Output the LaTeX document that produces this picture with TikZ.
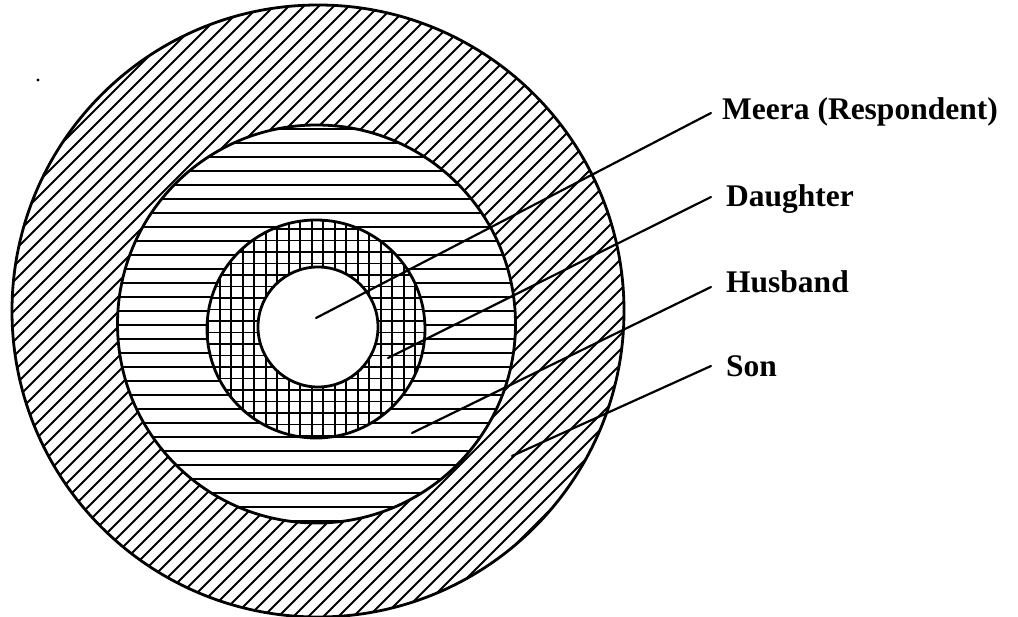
\documentclass[tikz,border=0pt]{standalone}
\usepackage{fontspec}
\setmainfont{Liberation Serif}
\begin{document}
\begin{tikzpicture}[x=1pt,y=-1pt,
  ring/.style={line width=2.8pt},
  hatch/.style={line width=1.9pt},
  leader/.style={line width=2.2pt, line cap=round},
  lab/.style={anchor=base west, inner sep=0pt, font=\fontsize{31.5}{36}\selectfont\bfseries}]
\useasboundingbox (0,0) rectangle (1018,617);
\coordinate (cO) at (318,311);
\coordinate (cM) at (316.5,324);
\coordinate (cX) at (316,329);
\coordinate (cW) at (318,327);
% outer ring: diagonal hatching
\begin{scope}
  \clip (cO) circle[radius=306pt];
  \foreach \d in {-445,-430,...,470} \draw[hatch] (\d,620) -- (\d+620,0);
\end{scope}
% middle ring: horizontal hatching
\fill[white] (cM) circle[radius=199pt];
\begin{scope}
  \clip (cM) circle[radius=199pt];
  \foreach \y in {129,143,...,530} \draw[hatch] (100,\y) -- (540,\y);
\end{scope}
% inner ring: cross hatching
\fill[white] (cX) circle[radius=109pt];
\begin{scope}
  \clip (cX) circle[radius=109pt];
  \foreach \k in {-11,...,11}
    \draw[hatch] (311.7+11.5*\k,210) -- (311.7+11.5*\k,450);
  \foreach \k in {-4,...,20}
    \draw[hatch] (200,413-11.5*\k) -- (440,413-11.5*\k);
\end{scope}
% centre
\fill[white] (cW) circle[radius=60pt];
% outlines
\draw[ring] (cO) circle[radius=306pt];
\draw[ring] (cM) circle[radius=199pt];
\draw[ring] (cX) circle[radius=109pt];
\draw[ring] (cW) circle[radius=60pt];
% stray dot
\fill (38,80) circle[radius=1.6pt];
% labels
\node[lab] (meera) at (722,120) {Meera (Respondent)};
\node[lab] (daughter) at (726,207) {Daughter};
\node[lab] (husband) at (726,293) {Husband};
\node[lab] (son) at (726,377) {Son};
% leader ends
\coordinate (m0) at (316,318);
\coordinate (m1) at (711,113);
\coordinate (d0) at (388,358);
\coordinate (d1) at (711,197);
\coordinate (h0) at (412,433);
\coordinate (h1) at (711,287);
\coordinate (s0) at (512,456);
\coordinate (s1) at (711,366);
\draw[leader] (m0) -- (m1);
\draw[leader] (d0) -- (d1);
\draw[leader] (h0) -- (h1);
\draw[leader] (s0) -- (s1);
\end{tikzpicture}
\end{document}
